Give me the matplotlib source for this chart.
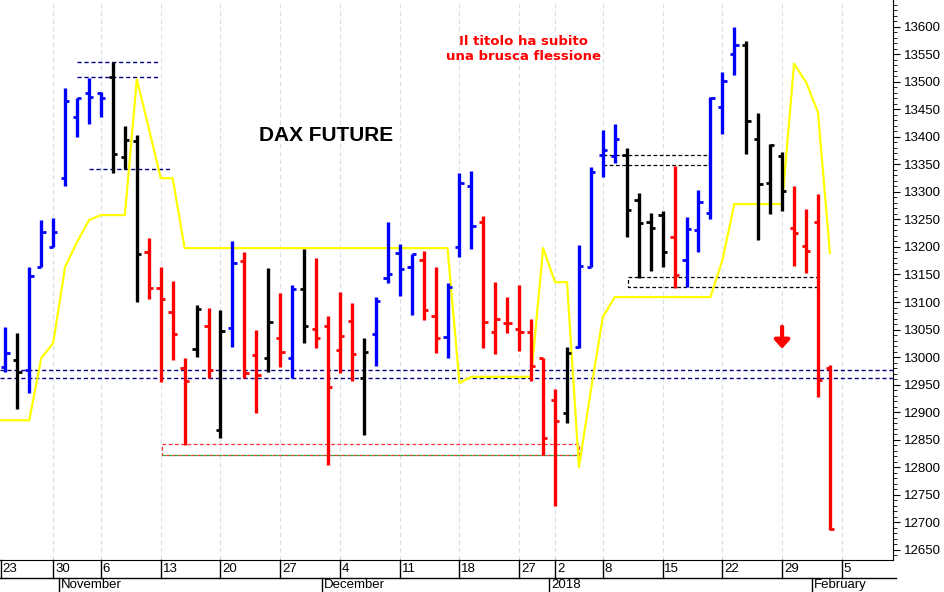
import matplotlib
matplotlib.use("Agg")
import matplotlib.pyplot as plt
import matplotlib.transforms as mtransforms
from matplotlib.ticker import MultipleLocator

# ---- data (trading days Oct 25 2017 .. Feb 2 2018, day index 1..70) ----
days = list(range(1, 71))
opens = [12982, 12995, 12976, 13164, 13200, 13325, 13436, 13480, 13480, 13509,
         13364, 13393, 13191, 13125, 13082, 12980, 13015, 13056, 12867, 13053,
         13175, 13004, 12998, 13035, 12998, 13124, 13051, 13056, 13013, 13065,
         12962, 13042, 13144, 13189, 13164, 13176, 13075, 13036, 13200, 13311,
         13245, 13045, 13062, 13051, 13045, 12998, 12922, 12898, 13018, 13164,
         13367, 13365, 13367, 13285, 13245, 13258, 13218, 13176, 13231, 13262,
         13455, 13551, 13567, 13396, 13316, 13365, 13235, 13202, 13245, 12980]
highs = [13055, 13044, 13164, 13249, 13253, 13489, 13471, 13507, 13482, 13536,
         13420, 13404, 13216, 13164, 13138, 12998, 13095, 13089, 13085, 13211,
         13191, 13049, 13162, 13116, 13131, 13196, 13180, 13075, 13118, 13098,
         13035, 13109, 13245, 13205, 13187, 13193, 13164, 13135, 13335, 13338,
         13256, 13136, 13109, 13131, 13069, 12998, 12942, 13018, 13204, 13345,
         13413, 13424, 13380, 13298, 13262, 13265, 13347, 13255, 13304, 13473,
         13518, 13600, 13575, 13444, 13387, 13373, 13311, 13269, 13296, 12985]
lows = [12973, 12905, 12935, 13164, 13200, 13311, 13400, 13424, 13436, 13335,
        13342, 13100, 13105, 12955, 12995, 12840, 13000, 12962, 12853, 13018,
        12962, 12898, 12973, 12982, 12962, 13025, 13016, 12804, 12971, 12956,
        12858, 12984, 13135, 13111, 13076, 13067, 13007, 12998, 13182, 13196,
        13016, 13005, 13044, 13011, 12956, 12822, 12729, 12880, 13016, 13164,
        13327, 13353, 13218, 13144, 13156, 13164, 13125, 13127, 13191, 13251,
        13405, 13513, 13369, 13213, 13260, 13265, 13165, 13153, 12927, 12685]
closes = [13007, 12973, 13147, 13227, 13227, 13465, 13471, 13473, 13471, 13369,
          13395, 13187, 13125, 13105, 13042, 12956, 13087, 12976, 13047, 13171,
          12971, 12967, 13064, 13009, 13124, 13056, 13035, 12945, 13038, 13005,
          13009, 13102, 13151, 13160, 13187, 13085, 13035, 13127, 13316, 13238,
          13064, 13069, 13062, 13045, 12984, 12853, 12884, 13007, 13165, 13336,
          13376, 13396, 13267, 13244, 13235, 13191, 13149, 13233, 13282, 13471,
          13502, 13567, 13429, 13315, 13385, 13302, 13225, 13193, 12958, 12687]
trend = list("bkbbbbbbbkkkrrrrkrkbrrkrbkrrrrkbbbbrrbbbrrrrrrrkbbbbkkkkrbbbbbkkkkrrrr")

stop_days = list(range(0, 71))
stop_line = [12885, 12885, 12885, 12885, 12998, 13025, 13164, 13209, 13249, 13258,
             13258, 13258, 13505, 13416, 13325, 13325] + [13198] * 23 + \
            [12953] + [12964] * 6 + [13198, 13136, 13136, 12800, 12940, 13073] + \
            [13109] * 9 + [13176] + [13278] * 5 + [13533, 13500, 13445, 13189]

tick_days = [0.6, 5, 9, 14, 19, 24, 29, 34, 39, 44, 47, 51, 56, 61, 66, 71]
tick_labels = ["23", "30", "6", "13", "20", "27", "4", "11", "18", "27", "2",
               "8", "15", "22", "29", "5"]
month_days = [6, 28, 47, 69]
month_labels = ["November", "December", "2018", "February"]

colmap = {"b": "#0000ff", "r": "#ff0000", "k": "#000000"}

W, H = 945, 592
fig = plt.figure(figsize=(W / 100, H / 100), dpi=100)
ax = fig.add_axes([0, 32 / H, 893 / W, 560 / H])
ax.set_xlim(0.55, 75.28)
ax.set_ylim(12631, 13649)

for d in tick_days[1:]:
    ax.axvline(d, color="#d8dcec", lw=0.8, ls=(0, (4, 3)), zorder=0)

# reference lines / boxes
ax.hlines([12976, 12962], 0.55, 75.28, colors="#000080", lw=1, ls=(0, (3, 2)))
ax.hlines([13536, 13509], 7.0, 13.8, colors="#000080", lw=1, ls=(0, (3, 2)))
ax.hlines([13342], 8.0, 14.8, colors="#000080", lw=1, ls=(0, (3, 2)))
ax.plot([14.1, 49, 49, 14.1, 14.1], [12842, 12842, 12822, 12822, 12842],
        color="#ff3030", lw=0.9, ls=(0, (3, 2)))
ax.hlines([12822], 14.1, 49, colors="#40a040", lw=0.9, ls=(0, (3, 2)))
ax.plot([51, 59.9, 59.9], [13367, 13367, 13349], color="black", lw=0.9, ls=(0, (3, 2)))
ax.hlines([13349], 51, 59.9, colors="black", lw=0.9, ls=(0, (3, 2)))
ax.plot([53.1, 69, 69, 53.1, 53.1], [13145, 13145, 13127, 13127, 13145],
        color="black", lw=0.9, ls=(0, (3, 2)))

ax.plot(stop_days, stop_line, color="#ffff00", lw=1.6, zorder=3)

tl = 0.36
for d, o, h, l, c, t in zip(days, opens, highs, lows, closes, trend):
    col = colmap[t]
    ax.plot([d, d], [l, h], color=col, lw=2.4, solid_capstyle="butt", zorder=4)
    ax.plot([d - tl, d], [o, o], color=col, lw=2, solid_capstyle="butt", zorder=4)
    ax.plot([d, d + tl], [c, c], color=col, lw=2, solid_capstyle="butt", zorder=4)

ax.text(27.8, 13403, "DAX FUTURE", fontsize=15, fontweight="bold",
        ha="center", va="center", family="Liberation Sans")
ax.text(44.4, 13560, "Il titolo ha subito\nuna brusca flessione", color="#ff0000",
        fontsize=9.5, fontweight="bold", ha="center", va="center",
        family="DejaVu Sans", linespacing=1.15)
ax.annotate("", xy=(66.0, 13010), xytext=(66.0, 13060),
            arrowprops=dict(arrowstyle="-|>,head_width=0.45,head_length=0.5",
                            color="#ff0000", lw=3))

ax.yaxis.tick_right()
ax.yaxis.set_minor_locator(MultipleLocator(10))
ax.set_yticks(list(range(12650, 13601, 50)))
ax.tick_params(axis="y", which="major", length=5, labelsize=9.5, pad=3)
ax.tick_params(axis="y", which="minor", length=3)
for lab in ax.get_yticklabels():
    lab.set_family("Liberation Sans")
ax.set_xticks([])
for s in ["left", "top"]:
    ax.spines[s].set_visible(False)

trans = mtransforms.blended_transform_factory(ax.transData, fig.transFigure)
y1, y2, y3 = 1 - 560 / H, 1 - 578 / H, 0.0
ax.plot([0.55, 75.5], [y2, y2], color="black", lw=1, transform=trans, clip_on=False)
for d, lab in zip(tick_days, tick_labels):
    ax.plot([d, d], [y1, y2], color="black", lw=1, transform=trans, clip_on=False)
    ax.text(d + 0.15, (y1 + y2) / 2, lab, transform=trans, fontsize=9.5,
            ha="left", va="center", family="Liberation Sans")
for d, lab in zip(month_days, month_labels):
    ax.plot([d - 0.5, d - 0.5], [y2, y3], color="black", lw=1, transform=trans, clip_on=False)
    ax.text(d - 0.35, (y2 + y3) / 2, lab, transform=trans, fontsize=9.5,
            ha="left", va="center", family="Liberation Sans")

fig.savefig("out.png", dpi=100)
